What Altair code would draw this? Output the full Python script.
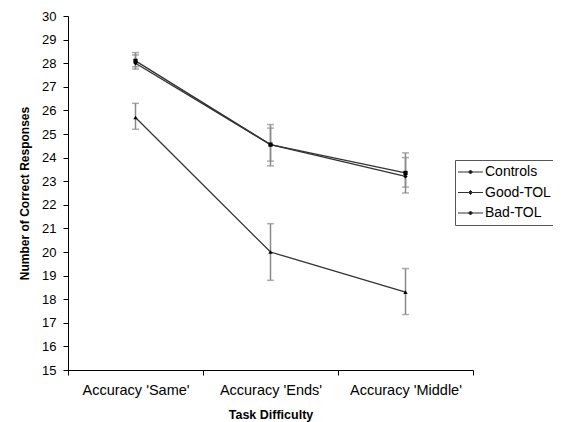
import altair as alt
import pandas as pd

categories = ["Accuracy 'Same'", "Accuracy 'Ends'", "Accuracy 'Middle'"]
groups = ["Controls", "Good-TOL", "Bad-TOL"]
markers = ["diamond", "square", "triangle-up"]
means = {
    "Controls": [28.0, 24.55, 23.2],
    "Good-TOL": [28.1, 24.55, 23.35],
    "Bad-TOL": [25.7, 20.0, 18.3],
}
lower = {
    "Controls": [27.75, 23.65, 22.5],
    "Good-TOL": [27.85, 23.85, 22.75],
    "Bad-TOL": [25.2, 18.8, 17.35],
}
upper = {
    "Controls": [28.35, 25.25, 24.0],
    "Good-TOL": [28.45, 25.4, 24.2],
    "Bad-TOL": [26.3, 21.2, 19.3],
}
y_ticks = list(range(15, 31))

rows = []
for g in groups:
    for i, c in enumerate(categories):
        rows.append({"group": g, "category": c, "pos": i + 0.5,
                     "mean": means[g][i], "lo": lower[g][i], "hi": upper[g][i]})
df = pd.DataFrame(rows)

W, H = 405, 354
FONT = "Liberation Sans"

label_expr = " : ".join(
    [f"datum.value == {i} ? \"{c}\"" for i, c in enumerate(categories)]
) + ' : ""'

x_axis = alt.Axis(values=[0, 1, 2, 3], labelExpr=label_expr,
                  labelOffset=W / 6, labelFlush=False, labelOverlap=False,
                  title="Task Difficulty", grid=False, tickSize=5,
                  labelPadding=8, titlePadding=12)
y_axis = alt.Axis(values=y_ticks, title="Number of Correct Responses",
                  grid=False, tickSize=5, labelPadding=7, titlePadding=10,
                  labelOverlap=False, labelFlush=False, labelBound=False)
x_scale = alt.Scale(domain=[0, 3], nice=False, zero=False)
y_scale = alt.Scale(domain=[15, 30], nice=False, zero=False)


def X():
    return alt.X("pos:Q", scale=x_scale, axis=x_axis)


def Y(field):
    return alt.Y(f"{field}:Q", scale=y_scale, axis=y_axis)


base = alt.Chart(df)

rule = base.mark_rule(color="#8a8a8a", strokeWidth=1.5).encode(
    x=X(), y=Y("lo"), y2="hi:Q", detail="group:N")
cap_lo = base.mark_tick(color="#8a8a8a", orient="horizontal", size=7, thickness=1.5).encode(
    x=X(), y=Y("lo"), detail="group:N")
cap_hi = base.mark_tick(color="#8a8a8a", orient="horizontal", size=7, thickness=1.5).encode(
    x=X(), y=Y("hi"), detail="group:N")

legend_symbol = "M-1.8,0L3.2,0M0.7,-0.4L1.1,0L0.7,0.4L0.3,0Z"

lines = base.mark_line(strokeWidth=1.3).encode(
    x=X(), y=Y("mean"), order="pos:Q",
    color=alt.Color("group:N", sort=groups,
                    scale=alt.Scale(domain=groups, range=["#333333", "#333333", "#333333"]),
                    legend=alt.Legend(
                        title=None, orient="none", legendX=387, legendY=144,
                        strokeColor="#555555", padding=5, symbolSize=100,
                        symbolType=legend_symbol,
                        symbolStrokeWidth=1,
                        symbolFillColor="black", symbolOpacity=1,
                        labelFontSize=14, labelFont=FONT, labelColor="black",
                        rowPadding=6.5, labelOffset=11)))

point_layers = [
    base.transform_filter(alt.datum.group == g).mark_point(
        filled=True, opacity=1, size=18, color="black", shape=m
    ).encode(x=X(), y=Y("mean"))
    for g, m in zip(groups, markers)
]

chart = alt.layer(rule, cap_lo, cap_hi, lines, *point_layers).properties(
    width=W, height=H,
    autosize=alt.AutoSizeParams(type="none"),
    padding={"left": 60, "top": 8, "right": 80, "bottom": 52},
).configure_view(stroke=None).configure_axis(
    domainColor="black", tickColor="black", labelColor="black", titleColor="black",
    labelFont=FONT, titleFont=FONT, labelFontSize=13, titleFontSize=12,
    titleFontWeight="bold",
).configure_axisX(labelFontSize=14.5, titleFontSize=12.5)

chart.save("out.html", embed_options={"renderer": "svg", "actions": False})
